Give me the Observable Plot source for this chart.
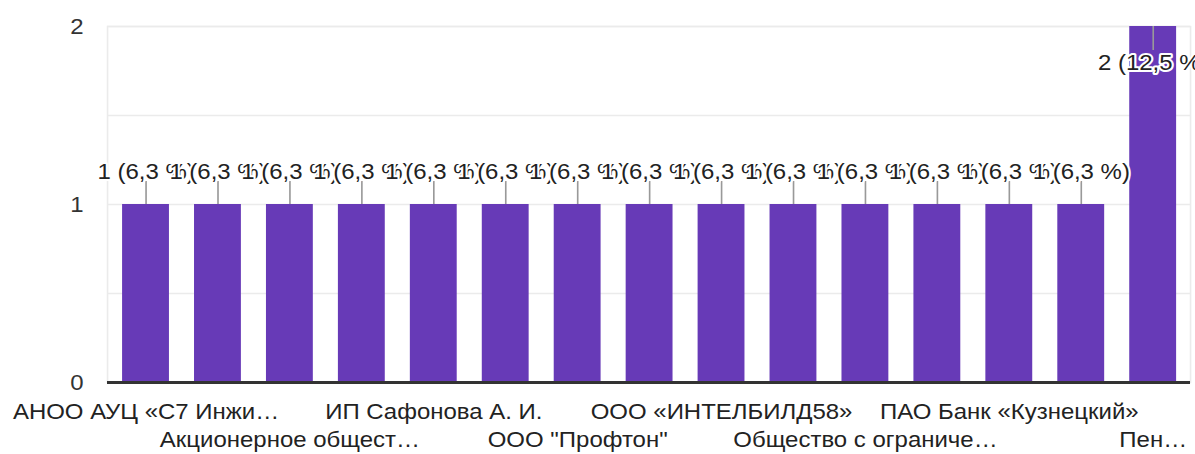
<!DOCTYPE html>
<html>
<head>
<meta charset="utf-8">
<script src="https://cdn.jsdelivr.net/npm/d3@7"></script>
<script src="https://cdn.jsdelivr.net/npm/@observablehq/plot@0.6"></script>
<style>
  html, body { margin: 0; padding: 0; background: #fff; }
  #chart svg { display: block; }
</style>
</head>
<body>
<div id="chart"></div>
<script>
// Categories (hidden ones are not readable in the picture; placeholders)
const categories = [
  "АНОО АУЦ «С7 Инжиниринг»",
  "АО (скрыто 1)",
  "Акционерное общество",
  "ГБУ (скрыто 2)",
  "ИП Сафонова А. И.",
  "ООО (скрыто 3)",
  "ООО \"Профтон\"",
  "ООО (скрыто 4)",
  "ООО «ИНТЕЛБИЛД58»",
  "ООО (скрыто 5)",
  "Общество с ограниченной ответственностью",
  "ПАО (скрыто 6)",
  "ПАО Банк «Кузнецкий»",
  "ПАО (скрыто 7)",
  "Пензенская организация"
];
const counts = [1, 1, 1, 1, 1, 1, 1, 1, 1, 1, 1, 1, 1, 1, 2];
const percents = ["6,3", "6,3", "6,3", "6,3", "6,3", "6,3", "6,3", "6,3", "6,3", "6,3", "6,3", "6,3", "6,3", "6,3", "12,5"];
const tickLabels = [
  "АНОО АУЦ «С7 Инжи…", "", "Акционерное общест…", "", "ИП Сафонова А. И.", "",
  "ООО \"Профтон\"", "", "ООО «ИНТЕЛБИЛД58»", "", "Общество с ограниче…", "",
  "ПАО Банк «Кузнецкий»", "", "Пен…"
];
const yTicks = [0, 1, 2];
const yGrid = [0.5, 1, 1.5, 2];

const data = categories.map((c, i) => ({
  category: c,
  count: counts[i],
  label: `${counts[i]} (${percents[i]} %)`
}));
const maxCount = d3.max(counts);
const row1 = categories.filter((c, i) => i % 4 === 0);
const row2 = categories.filter((c, i) => i % 4 === 2);
const fmt = d => tickLabels[categories.indexOf(d)];

const FONT = "'Liberation Sans', Arial, sans-serif";
// the reference appears horizontally stretched; draw narrower and stretch
const S = 1.09;
const W = 1195, H = 454;
const w = W / S;

const chart = Plot.plot({
  width: w,
  height: H,
  marginLeft: 107 / S,
  marginRight: 5 / S,
  marginTop: 26,
  marginBottom: 72,
  style: { fontFamily: FONT, fontSize: "22px", color: "#222", background: "#fff" },
  x: { domain: categories, range: [107 / S, 1192 / S], paddingInner: 0.35, paddingOuter: 0.2, axis: null },
  y: { domain: [0, 2], axis: null },
  marks: [
    Plot.ruleY(yGrid, { stroke: "#ebebeb", strokeWidth: 1.5 }),
    Plot.frame({ stroke: "#ebebeb", strokeWidth: 1.5 }),
    Plot.barY(data, { x: "category", y: "count", fill: "#673ab7" }),
    Plot.ruleY([0], { stroke: "#333", strokeWidth: 3 }),
    // leader lines
    Plot.ruleX(data.filter(d => d.count < maxCount), {
      x: "category", y1: "count", y2: "count", insetTop: -23, stroke: "#999", strokeWidth: 1.5
    }),
    Plot.ruleX(data.filter(d => d.count === maxCount), {
      x: "category", y1: "count", y2: "count", insetBottom: -24, stroke: "#999", strokeWidth: 1.5
    }),
    // value labels
    Plot.text(data.filter(d => d.count < maxCount), {
      x: "category", y: "count", text: "label", dy: -33,
      fill: "#222", stroke: "white", strokeWidth: 4, fontSize: 22
    }),
    Plot.text(data.filter(d => d.count === maxCount), {
      x: "category", y: "count", text: "label", dy: 36,
      fill: "#222", stroke: "white", strokeWidth: 4, fontSize: 22
    }),
    Plot.axisY({ ticks: yTicks, tickSize: 0, tickPadding: 24 / S, tickFormat: d => String(d), fontSize: 22, color: "#333", label: null }),
    Plot.axisX({ ticks: row1, tickSize: 0, tickPadding: 21, tickFormat: fmt, fontSize: 22, color: "#222", label: null }),
    Plot.axisX({ ticks: row2, tickSize: 0, tickPadding: 49, tickFormat: fmt, fontSize: 22, color: "#222", label: null })
  ]
});
chart.setAttribute("preserveAspectRatio", "none");
chart.setAttribute("width", W);
chart.setAttribute("height", H);
chart.style.width = W + "px";
chart.style.height = H + "px";
chart.style.maxWidth = "none";
document.getElementById("chart").appendChild(chart);
</script>
</body>
</html>
